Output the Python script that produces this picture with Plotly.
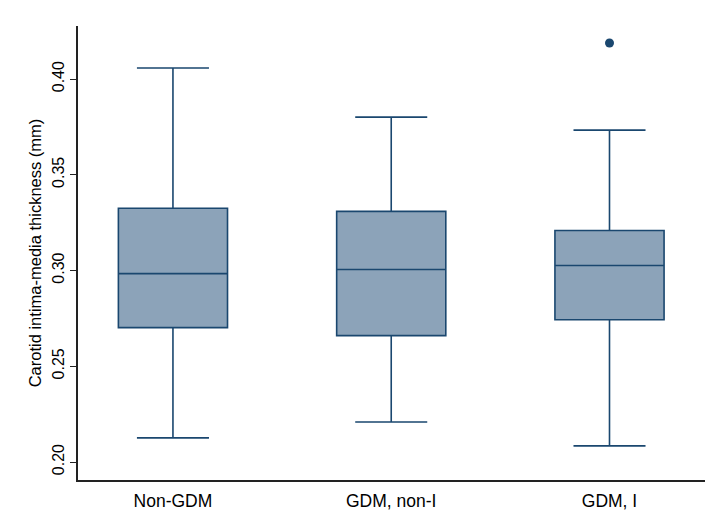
import plotly.graph_objects as go

categories = ["Non-GDM", "GDM, non-I", "GDM, I"]
q1 = [0.2702, 0.2660, 0.2743]
median = [0.2984, 0.3005, 0.3026]
q3 = [0.3325, 0.3309, 0.3209]
lowerfence = [0.2126, 0.2209, 0.2084]
upperfence = [0.4058, 0.3801, 0.3733]
outlier_x = ["GDM, I"]
outlier_y = [0.4188]
y_ticks = [0.20, 0.25, 0.30, 0.35, 0.40]
y_tick_labels = ["0.20", "0.25", "0.30", "0.35", "0.40"]

navy = "#1a476f"
fill = "#8ca3b9"

fig = go.Figure()
fig.add_trace(go.Box(
    x=categories, q1=q1, median=median, q3=q3,
    lowerfence=lowerfence, upperfence=upperfence,
    fillcolor=fill, line=dict(color=navy, width=1.6),
    width=0.5, whiskerwidth=0.66, boxpoints=False,
    showlegend=False, hoverinfo="skip",
))
fig.add_trace(go.Scatter(
    x=outlier_x, y=outlier_y, mode="markers",
    marker=dict(color=navy, size=9), showlegend=False,
))

font = "Liberation Sans, Arial, Helvetica, sans-serif"
fig.update_layout(
    width=715, height=520,
    margin=dict(l=70, r=18, t=18, b=48, autoexpand=False),
    paper_bgcolor="white", plot_bgcolor="white",
    font=dict(family=font, size=16, color="black"),
)
fig.update_xaxes(
    type="category", categoryorder="array", categoryarray=categories,
    range=[-0.435, 2.4375], automargin=False,
    showline=True, linecolor="#222", linewidth=1.5,
    ticks="", showgrid=False, zeroline=False,
    tickfont=dict(size=17.5), ticklabelstandoff=4,
)
fig.update_yaxes(
    range=[0.1906, 0.4277], automargin=False,
    tickvals=y_ticks, ticktext=y_tick_labels, tickangle=-90,
    showline=True, linecolor="#222", linewidth=1.5,
    ticks="outside", ticklen=6, tickcolor="#222", tickwidth=1.2,
    showgrid=False, zeroline=False,
    tickfont=dict(size=16),
    title=dict(text="Carotid intima-media thickness (mm)", standoff=4, font=dict(size=16.5)),
)
fig.write_html("out.html")
